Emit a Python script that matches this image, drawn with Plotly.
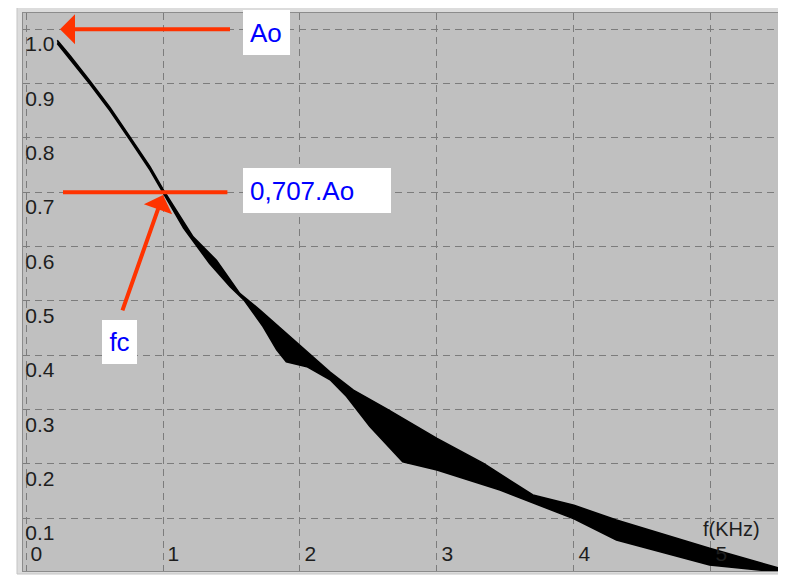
import plotly.graph_objects as go

# ---- data (frequency in kHz, normalised amplitude) ----
freq_upper_khz = [0.228, 0.321, 0.467, 0.613, 0.759, 0.905, 1.004, 1.22, 1.39, 1.56, 1.71,
                  1.93, 2.07, 2.22, 2.39, 2.63, 3.00, 3.34, 3.70, 4.00, 4.31, 4.99, 5.50]
amp_upper = [0.980, 0.952, 0.905, 0.856, 0.802, 0.747, 0.704, 0.618, 0.575, 0.514, 0.483,
             0.434, 0.404, 0.369, 0.336, 0.302, 0.247, 0.201, 0.143, 0.124, 0.097, 0.045, 0.008]

freq_lower_khz = [0.228, 0.321, 0.467, 0.613, 0.759, 0.905, 1.004, 1.15, 1.34, 1.49, 1.59,
                  1.73, 1.83, 1.90, 2.05, 2.22, 2.34, 2.51, 2.75, 3.00, 3.46, 4.00, 4.31,
                  4.99, 5.50]
amp_lower = [0.974, 0.946, 0.899, 0.850, 0.796, 0.741, 0.698, 0.634, 0.569, 0.526, 0.502,
             0.453, 0.410, 0.388, 0.379, 0.355, 0.324, 0.269, 0.204, 0.189, 0.152, 0.099,
             0.060, 0.014, 0.001]

x_tick_vals = [0, 1, 2, 3, 4, 5]
x_tick_text = ["0", "1", "2", "3", "4", "5"]
y_tick_vals = [0.1, 0.2, 0.3, 0.4, 0.5, 0.6, 0.7, 0.8, 0.9, 1.0]
y_tick_text = ["0.1", "0.2", "0.3", "0.4", "0.5", "0.6", "0.7", "0.8", "0.9", "1.0"]

amp_ref = 1.0          # Ao
cutoff_level = 0.70    # 0,707.Ao line as drawn
fc_khz = 1.0

X_RANGE = [-0.022, 5.504]
Y_RANGE = [0.003, 1.030]

RED = "#ff3300"
BLUE = "#0000ff"
TXT = "#1e1e1e"
FONT = "Liberation Sans, Arial, sans-serif"

# plot area size in px (page body adds an 8px offset)
PW, PH = 757, 558


def y_paper(v):
    return (v - Y_RANGE[0]) / (Y_RANGE[1] - Y_RANGE[0])


fig = go.Figure()

band_x = freq_upper_khz + freq_lower_khz[::-1]
band_y = amp_upper + amp_lower[::-1]
fig.add_trace(go.Scatter(
    x=band_x, y=band_y, mode="lines", fill="toself",
    fillcolor="black", line=dict(color="black", width=1.5),
    hoverinfo="skip", showlegend=False))

annotations = []
# Ao arrow
annotations.append(dict(x=0.248, y=amp_ref, ax=1.50, ay=amp_ref, xref="x", yref="y",
                        axref="x", ayref="y", text="", showarrow=True, arrowhead=1,
                        arrowsize=1.25, arrowwidth=4, arrowcolor=RED))
# fc arrow
annotations.append(dict(x=fc_khz, y=cutoff_level - 0.005, ax=0.70, ay=0.48, xref="x", yref="y",
                        axref="x", ayref="y", text="", showarrow=True, arrowhead=1,
                        arrowsize=1.25, arrowwidth=4, arrowcolor=RED))
# text boxes
box_common = dict(xanchor="left", yanchor="top", showarrow=False,
                  bgcolor="white", borderpad=7, borderwidth=0, align="left",
                  valign="middle", font=dict(family=FONT, size=26, color=BLUE))
annotations.append(dict(box_common, xref="x", yref="paper", x=1.584, y=y_paper(1.0355),
                        text="Ao", width=33, height=31))
annotations.append(dict(box_common, xref="x", yref="y", x=1.584, y=0.7447,
                        text="0,707.Ao", width=134, height=31))
annotations.append(dict(box_common, xref="x", yref="y", x=0.555, y=0.465, text="fc",
                        width=21, height=30, align="center"))
# axis title inside the plot
annotations.append(dict(x=4.925, y=0.081, xref="x", yref="y", xanchor="left",
                        yanchor="middle", showarrow=False, text="f(KHz)",
                        font=dict(family=FONT, size=20, color=TXT)))

frame_style = dict(type="rect", xref="paper", yref="paper", fillcolor="#dcdcdc",
                   line=dict(width=0), layer="below")
shapes = [
    dict(frame_style, x0=-6 / PW, x1=0, y0=-3 / PH, y1=1 + 8 / PH),
    dict(frame_style, x0=1, x1=1 + 3 / PW, y0=-3 / PH, y1=1 + 8 / PH),
    dict(frame_style, x0=-6 / PW, x1=1 + 3 / PW, y0=1, y1=1 + 8 / PH),
    dict(frame_style, x0=-6 / PW, x1=1 + 3 / PW, y0=-3 / PH, y1=0),
    # outer light edge
    dict(type="rect", xref="paper", yref="paper", x0=-6 / PW, x1=1 + 3 / PW,
         y0=-3 / PH, y1=1 + 8 / PH, line=dict(color="#c4c4c4", width=1),
         fillcolor="rgba(0,0,0,0)", layer="below"),
    # 0,707 level line
    dict(type="line", xref="x", yref="y", x0=0.27, x1=1.47, y0=cutoff_level,
         y1=cutoff_level, line=dict(color=RED, width=4)),
]

fig.update_layout(
    width=786, height=576,
    margin=dict(l=15, r=14, t=5, b=13, autoexpand=False),
    paper_bgcolor="white", plot_bgcolor="#c0c0c0",
    annotations=annotations, shapes=shapes, showlegend=False,
    font=dict(family=FONT, size=21, color=TXT),
)
axis_common = dict(ticks="", showgrid=True, gridcolor="#7c7c7c", griddash="7px,5px",
                   gridwidth=1.2, zeroline=False, showline=True, mirror=True,
                   linecolor="#8c8c8c", linewidth=1, ticklabeloverflow="allow",
                   tickfont=dict(family=FONT, size=21, color=TXT), automargin=False,
                   fixedrange=True)
fig.update_xaxes(range=X_RANGE, tickvals=x_tick_vals, ticktext=x_tick_text,
                 ticklabelposition="inside right", ticklabelstandoff=4,
                 ticklabelshift=4, **axis_common)
fig.update_yaxes(range=Y_RANGE, tickvals=y_tick_vals, ticktext=y_tick_text,
                 ticklabelposition="inside bottom", ticklabelstandoff=3, **axis_common)

fig.write_html("out.html", config=dict(displayModeBar=False))
